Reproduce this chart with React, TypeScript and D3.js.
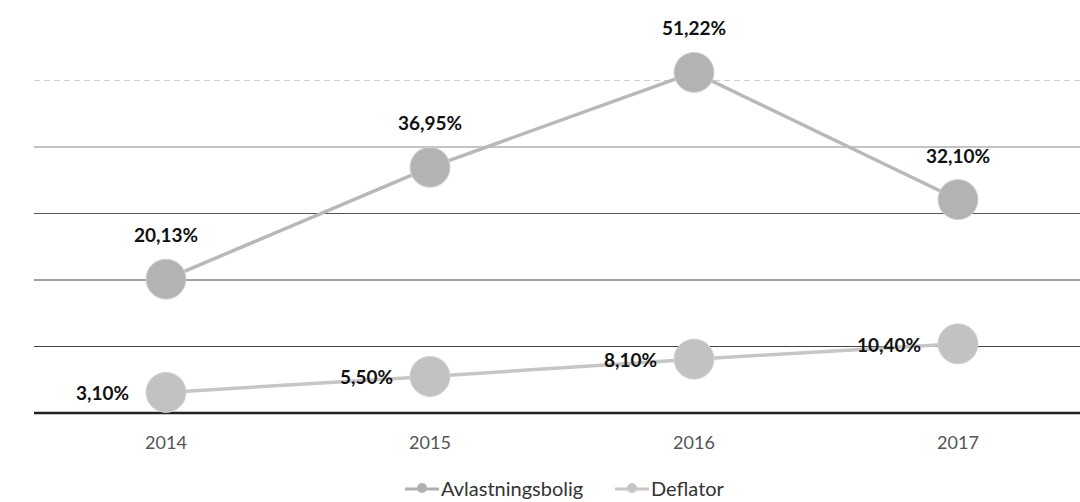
import React, { useEffect, useRef } from "react";
import * as d3 from "d3";

const years = ["2014", "2015", "2016", "2017"];
const avlastning = [20.13, 36.95, 51.22, 32.1];
const deflator = [3.1, 5.5, 8.1, 10.4];
const gridTicks = [10, 20, 30, 40, 50];
const seriesNames = ["Avlastningsbolig", "Deflator"];

const fmt = (v: number) => v.toFixed(2).replace(".", ",") + "%";

function drawChart(node: SVGSVGElement) {
  const width = 1080;
  const svg = d3.select(node);
  svg.selectAll("*").remove();

  const x = d3.scaleBand().domain(years).range([34, 1090]);
  const y = d3.scaleLinear().domain([0, 60]).range([413, 14]);
  const cx = (d: string) => (x(d) || 0) + x.bandwidth() / 2;

  // gridlines
  const gridColor: Record<number, string> = { 10: "#444", 20: "#444", 30: "#555", 40: "#8a8a8a", 50: "#cfcfcf" };
  svg
    .append("g")
    .selectAll("line")
    .data(gridTicks)
    .enter()
    .append("line")
    .attr("x1", 34)
    .attr("x2", width)
    .attr("y1", (d) => y(d))
    .attr("y2", (d) => y(d))
    .attr("stroke", (d) => gridColor[d])
    .attr("stroke-width", 1.2)
    .attr("stroke-dasharray", (d) => (d === 50 ? "6,4" : null));

  svg
    .append("line")
    .attr("x1", 34)
    .attr("x2", width)
    .attr("y1", y(0))
    .attr("y2", y(0))
    .attr("stroke", "#222")
    .attr("stroke-width", 2.5);

  // x axis labels
  svg
    .append("g")
    .selectAll("text")
    .data(years)
    .enter()
    .append("text")
    .attr("x", cx)
    .attr("y", 449)
    .attr("text-anchor", "middle")
    .style("font-family", "Lato, 'Open Sans', sans-serif")
    .style("font-size", "18px")
    .style("fill", "#555")
    .text((d) => d);

  const line = d3
    .line<number>()
    .x((_, i) => cx(years[i]))
    .y((d) => y(d));

  const series = [
    { name: seriesNames[0], values: avlastning, stroke: "#b8b8b8", fill: "#b3b3b3" },
    { name: seriesNames[1], values: deflator, stroke: "#c6c6c6", fill: "#c2c2c2" },
  ];

  series.forEach((s) => {
    svg
      .append("path")
      .datum(s.values)
      .attr("d", line)
      .attr("fill", "none")
      .attr("stroke", s.stroke)
      .attr("stroke-width", 3.5);
    svg
      .append("g")
      .selectAll("circle")
      .data(s.values)
      .enter()
      .append("circle")
      .attr("cx", (_, i) => cx(years[i]))
      .attr("cy", (d) => y(d))
      .attr("r", 20)
      .attr("fill", s.fill)
      .attr("stroke", "#d2d2d2")
      .attr("stroke-width", 1);
  });

  // labels for Avlastningsbolig: above the points
  svg
    .append("g")
    .selectAll("text")
    .data(avlastning)
    .enter()
    .append("text")
    .attr("x", (_, i) => cx(years[i]))
    .attr("y", (d) => y(d) - 37)
    .attr("text-anchor", "middle")
    .style("font-family", "Lato, 'Open Sans', sans-serif")
    .style("font-weight", "bold")
    .style("font-size", "19px")
    .style("fill", "#111")
    .text(fmt);

  // labels for Deflator: left of the points
  svg
    .append("g")
    .selectAll("text")
    .data(deflator)
    .enter()
    .append("text")
    .attr("x", (_, i) => cx(years[i]) - 37)
    .attr("y", (d) => y(d) + 8)
    .attr("text-anchor", "end")
    .style("font-family", "Lato, 'Open Sans', sans-serif")
    .style("font-weight", "bold")
    .style("font-size", "19px")
    .style("fill", "#111")
    .text(fmt);

  // legend
  const legend = svg.append("g").attr("transform", "translate(0,489)");
  const legendItems = [
    { name: seriesNames[0], x0: 405, color: "#b0b0b0" },
    { name: seriesNames[1], x0: 615, color: "#c6c6c6" },
  ];
  legendItems.forEach((it) => {
    legend
      .append("line")
      .attr("x1", it.x0)
      .attr("x2", it.x0 + 34)
      .attr("y1", 0)
      .attr("y2", 0)
      .attr("stroke", it.color)
      .attr("stroke-width", 3);
    legend
      .append("circle")
      .attr("cx", it.x0 + 17)
      .attr("cy", -1)
      .attr("r", 5)
      .attr("fill", it.color);
    legend
      .append("text")
      .attr("x", it.x0 + 36)
      .attr("y", 7)
      .style("font-family", "Lato, 'Open Sans', sans-serif")
      .style("font-size", "20px")
      .style("fill", "#333")
      .text(it.name);
  });
}

export default function App() {
  const ref = useRef<SVGSVGElement>(null);
  useEffect(() => {
    if (ref.current) drawChart(ref.current);
  }, []);
  return (
    <svg
      ref={ref}
      width={1080}
      height={502}
      style={{ position: "absolute", left: 0, top: 0, background: "#fff" }}
    />
  );
}
